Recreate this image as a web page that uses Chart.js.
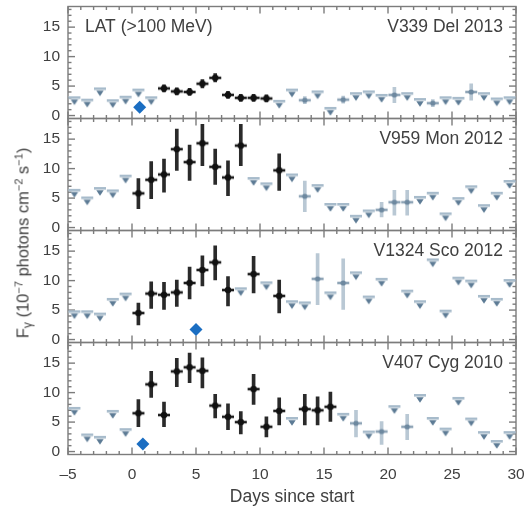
<!DOCTYPE html>
<html>
<head>
<meta charset="utf-8">
<script src="https://cdn.jsdelivr.net/npm/chart.js@4.4.1/dist/chart.umd.min.js"></script>
<style>
html,body{margin:0;padding:0;background:#fff;}
#wrap{position:relative;width:525px;height:511px;overflow:hidden;}
#c{position:absolute;left:0;top:0;}
#ytitle{position:absolute;left:23px;top:243px;transform:translate(-50%,-50%) rotate(-90deg);white-space:nowrap;
  font-family:"Liberation Sans",Arial,sans-serif;font-size:16.5px;color:#404040;line-height:16px;}
#ytitle sup{font-size:11px;vertical-align:6px;}
#ytitle sub{font-size:12px;vertical-align:-3px;}
</style>
</head>
<body>
<div id="wrap">
<canvas id="c" width="525" height="511" style="width:525px;height:511px"></canvas>
<div id="ytitle">F<sub>γ</sub> (10<sup>−7</sup> photons cm<sup>−2</sup> s<sup>−1</sup>)</div>
</div>
<script>
// ---------- texts & ticks ----------
const panelNames = ['V339 Del 2013', 'V959 Mon 2012', 'V1324 Sco 2012', 'V407 Cyg 2010'];
const instrumentLabel = 'LAT (>100 MeV)';
const xTitle = 'Days since start';
const xTicks = [-5, 0, 5, 10, 15, 20, 25, 30];
const yTicks = [0, 5, 10, 15];

// ---------- V339 Del 2013 ----------
const ulX0 = [-4.5,-3.5,-2.5,-1.5,-0.5,0.5,1.5,11.5,12.5,14.5,15.5,17.5,18.5,19.5,21.5,22.5,24.5,25.5,27.5,28.5,29.5];
const ulY0 = [3.1,2.7,4.6,2.6,3.2,4.4,3.1,2.5,4.4,4.1,1.3,3.8,4.1,3.5,3.8,2.8,3.1,3.0,3.8,2.9,3.1];
const detX0 = [2.5,3.5,4.5,5.5,6.5,7.5,8.5,9.5,10.5];
const detY0 = [4.6,4.1,4.0,5.4,6.4,3.5,3.0,3.0,2.9];
const detLo0 = [4.0,3.5,3.4,4.7,5.7,2.9,2.4,2.4,2.3];
const detHi0 = [5.2,4.7,4.6,6.1,7.1,4.1,3.6,3.6,3.5];
const fntX0 = [13.5,16.5,20.5,23.5,26.5];
const fntY0 = [2.6,2.7,3.5,2.1,4.0];
const fntLo0 = [2.0,2.1,2.2,1.5,2.6];
const fntHi0 = [3.2,3.3,4.8,2.7,5.4];
const novaX0 = [0.6];
const novaY0 = [1.4];

// ---------- V959 Mon 2012 ----------
const ulX1 = [-4.5,-3.5,-2.5,-1.5,-0.5,9.5,10.5,12.5,14.5,15.5,16.5,17.5,18.5,22.5,23.5,24.5,25.5,26.5,27.5,28.5,29.5];
const ulY1 = [6.4,5.1,6.7,6.3,8.8,8.4,7.5,9.0,7.2,4.0,4.0,2.0,2.9,5.2,5.9,2.4,5.0,7.0,3.8,5.9,7.9];
const detX1 = [0.5,1.5,2.5,3.5,4.5,5.5,6.5,7.5,8.5,11.5];
const detY1 = [5.8,8.1,9.0,13.3,11.1,14.3,10.3,8.5,13.9,9.7];
const detLo1 = [3.2,4.9,6.0,9.7,8.0,10.5,7.3,5.4,10.5,6.3];
const detHi1 = [8.3,11.2,11.6,16.7,14.0,17.5,13.3,11.3,17.5,12.5];
const fntX1 = [13.5,19.5,20.5,21.5];
const fntY1 = [5.3,3.0,4.3,4.3];
const fntLo1 = [2.7,1.8,2.1,2.1];
const fntHi1 = [7.9,4.3,6.3,6.3];
const novaX1 = [];
const novaY1 = [];

// ---------- V1324 Sco 2012 ----------
const ulX2 = [-4.5,-3.5,-2.5,-1.5,-0.5,8.5,10.5,12.5,13.5,15.5,17.5,18.5,19.5,21.5,22.5,23.5,24.5,25.5,26.5,27.5,28.5,29.5];
const ulY2 = [4.8,4.8,4.4,6.9,7.8,8.7,9.7,6.5,6.3,8.0,11.4,7.3,10.3,8.3,6.5,13.6,4.9,10.5,10.0,7.4,6.9,10.1];
const detX2 = [0.5,1.5,2.5,3.5,4.5,5.5,6.5,7.5,9.5,11.5];
const detY2 = [4.5,7.8,7.6,8.0,9.6,11.8,13.1,8.4,11.1,7.4];
const detLo2 = [2.5,5.3,5.1,5.6,6.9,9.1,10.1,5.7,7.9,4.5];
const detHi2 = [6.2,9.8,9.7,10.1,12.3,14.2,15.9,10.7,14.1,10.1];
const fntX2 = [14.5,16.5];
const fntY2 = [10.3,9.6];
const fntLo2 = [5.9,5.1];
const fntHi2 = [14.6,13.7];
const novaX2 = [5.0];
const novaY2 = [1.7];

// ---------- V407 Cyg 2010 ----------
const ulX3 = [-4.5,-3.5,-2.5,-1.5,-0.5,12.5,16.5,18.5,20.5,22.5,23.5,24.5,25.5,26.5,27.5,28.5,29.5];
const ulY3 = [7.4,2.9,2.5,6.9,3.8,5.7,6.4,3.4,7.7,9.6,5.7,3.9,9.1,5.6,3.3,1.8,3.3];
const detX3 = [0.5,1.5,2.5,3.5,4.5,5.5,6.5,7.5,8.5,9.5,10.5,11.5,13.5,14.5,15.5];
const detY3 = [6.5,11.4,6.2,13.6,14.3,13.7,7.8,5.9,5.0,10.6,4.2,6.9,7.2,7.0,7.6];
const detLo3 = [4.2,9.2,4.2,11.0,11.7,10.8,5.7,3.7,3.0,8.0,2.5,4.5,4.5,4.5,5.1];
const detHi3 = [8.8,13.6,8.4,15.8,16.7,15.9,9.7,8.1,6.8,13.1,5.9,9.1,9.7,9.3,10.1];
const fntX3 = [17.5,19.5,21.5];
const fntY3 = [4.8,3.4,4.2];
const fntLo3 = [2.5,1.2,2.0];
const fntHi3 = [7.0,5.1,6.3];
const novaX3 = [0.85];
const novaY3 = [1.3];

// ---------- styles ----------
const FONT = '"Liberation Sans", Arial, Helvetica, sans-serif';
const TEXT = '#404040';
const FRAME = '#7c7c7c';

function makeUL() {
  const c = document.createElement('canvas'); c.width = 14; c.height = 26;
  const g = c.getContext('2d');
  g.fillStyle = '#a7bbcb'; g.fillRect(1, 12, 12, 2.6);
  g.fillStyle = '#5d7b95';
  g.beginPath(); g.moveTo(3.3, 15.2); g.lineTo(10.7, 15.2); g.lineTo(7, 20.8); g.closePath(); g.fill();
  return c;
}
function makePlus(barCol, dotCol, r) {
  const c = document.createElement('canvas'); c.width = 14; c.height = 14;
  const g = c.getContext('2d');
  g.fillStyle = barCol; g.fillRect(1, 5.7, 12, 2.6);
  g.fillStyle = dotCol; g.beginPath(); g.arc(7, 7, r, 0, Math.PI * 2); g.fill();
  return c;
}
const ulImg = makeUL();
const detImg = makePlus('#1c1c1c', '#111', 3.2);
const fntImg = makePlus('#8ea4b6', '#6d889f', 2.6);

const pts = (xs, ys) => xs.map((x, i) => ({x: x, y: ys[i]}));
const bars = (xs, lo, hi) => xs.map((x, i) => ({x: x, y: [lo[i], hi[i]]}));

const panels = [
  {ulX: ulX0, ulY: ulY0, detX: detX0, detY: detY0, detLo: detLo0, detHi: detHi0, fntX: fntX0, fntY: fntY0, fntLo: fntLo0, fntHi: fntHi0, novaX: novaX0, novaY: novaY0},
  {ulX: ulX1, ulY: ulY1, detX: detX1, detY: detY1, detLo: detLo1, detHi: detHi1, fntX: fntX1, fntY: fntY1, fntLo: fntLo1, fntHi: fntHi1, novaX: novaX1, novaY: novaY1},
  {ulX: ulX2, ulY: ulY2, detX: detX2, detY: detY2, detLo: detLo2, detHi: detHi2, fntX: fntX2, fntY: fntY2, fntLo: fntLo2, fntHi: fntHi2, novaX: novaX2, novaY: novaY2},
  {ulX: ulX3, ulY: ulY3, detX: detX3, detY: detY3, detLo: detLo3, detHi: detHi3, fntX: fntX3, fntY: fntY3, fntLo: fntLo3, fntHi: fntHi3, novaX: novaX3, novaY: novaY3}
];

const datasets = [];
panels.forEach((p, i) => {
  const yid = 'y' + i;
  datasets.push({type: 'bar', data: bars(p.fntX, p.fntLo, p.fntHi), yAxisID: yid, backgroundColor: '#b9c8d4',
    barThickness: 3, grouped: false, borderWidth: 0, order: 5});
  datasets.push({type: 'bar', data: bars(p.detX, p.detLo, p.detHi), yAxisID: yid, backgroundColor: '#2a2a2a',
    barThickness: 3, grouped: false, borderWidth: 0, order: 4});
  datasets.push({type: 'scatter', data: pts(p.ulX, p.ulY), yAxisID: yid, pointStyle: ulImg, order: 3});
  datasets.push({type: 'scatter', data: pts(p.fntX, p.fntY), yAxisID: yid, pointStyle: fntImg, order: 2});
  datasets.push({type: 'scatter', data: pts(p.detX, p.detY), yAxisID: yid, pointStyle: detImg, order: 1});
  datasets.push({type: 'scatter', data: pts(p.novaX, p.novaY), yAxisID: yid, pointStyle: 'rectRot', radius: 6.5,
    backgroundColor: '#1b6ec2', borderColor: '#1b6ec2', borderWidth: 0, order: 0});
});

const yScale = (i) => ({
  type: 'linear', position: 'left', stack: 'panels', stackWeight: 1, weight: 4 - i,
  min: -0.5, max: 18.5, offset: false,
  grid: {display: false, drawTicks: false}, border: {display: false},
  afterBuildTicks: s => { s.ticks = yTicks.map(v => ({value: v})); },
  ticks: {padding: 8, font: {size: 15.5, family: FONT}, color: TEXT, autoSkip: false},
  afterFit: s => { s.width = 68; s.paddingTop = 0; s.paddingBottom = 0; }
});

const framePlugin = {
  id: 'frame',
  beforeDatasetsDraw(chart) {
    const {ctx, chartArea} = chart;
    const {left, right} = chartArea;
    const xs = chart.scales.x;
    ctx.save();
    ctx.strokeStyle = FRAME; ctx.lineWidth = 1.4;
    const line = (a, b, c, d) => { ctx.beginPath(); ctx.moveTo(a, b); ctx.lineTo(c, d); ctx.stroke(); };
    panels.forEach((p, i) => {
      const ys = chart.scales['y' + i];
      const top = ys.top, bottom = ys.bottom;
      ctx.strokeRect(left, top, right - left, bottom - top);
      for (let v = xs.min; v <= xs.max; v++) {
        const px = xs.getPixelForValue(v);
        const L = v % 5 === 0 ? 7 : 3.5;
        line(px, top, px, top + L);
        line(px, bottom, px, bottom - L);
      }
      for (let v = 0; v <= 18; v++) {
        const py = ys.getPixelForValue(v);
        const L = v % 5 === 0 ? 7 : 3.5;
        line(left, py, left + L, py);
        line(right, py, right - L, py);
      }
    });
    ctx.restore();
  },
  afterDatasetsDraw(chart) {
    const {ctx, chartArea} = chart;
    ctx.save();
    ctx.fillStyle = TEXT;
    ctx.font = '17.5px ' + FONT;
    ctx.textBaseline = 'middle';
    panelNames.forEach((name, i) => {
      const ys = chart.scales['y' + i];
      const py = ys.getPixelForValue(yTicks[3]);
      ctx.textAlign = 'right';
      ctx.fillText(name, chartArea.right - 13, py);
      if (i === 0) {
        ctx.textAlign = 'left';
        ctx.fillText(instrumentLabel, chartArea.left + 17, py);
      }
    });
    ctx.restore();
  }
};

const scales = {
  x: {
    type: 'linear', min: -5, max: 30, offset: false,
    grid: {display: false, drawTicks: false}, border: {display: false},
    afterBuildTicks: s => { s.ticks = xTicks.map(v => ({value: v})); },
    ticks: {padding: 11, font: {size: 15.5, family: FONT}, color: TEXT, maxRotation: 0, autoSkip: false,
      callback: v => v < 0 ? '\u2013' + Math.abs(v) : String(v)},
    title: {display: true, text: xTitle, font: {size: 17.5, family: FONT}, color: TEXT, padding: {top: 0, bottom: 3}},
    afterFit: s => { s.height = 56.5; s.paddingLeft = 0; s.paddingRight = 0; }
  }
};
for (let i = 0; i < 4; i++) scales['y' + i] = yScale(i);

new Chart(document.getElementById('c'), {
  type: 'scatter',
  data: {datasets: datasets},
  options: {
    responsive: false, animation: false,
    layout: {padding: {top: 5, right: 9, left: 0, bottom: 0}},
    plugins: {legend: {display: false}, tooltip: {enabled: false}},
    scales: scales
  },
  plugins: [framePlugin]
});
</script>
</body>
</html>
